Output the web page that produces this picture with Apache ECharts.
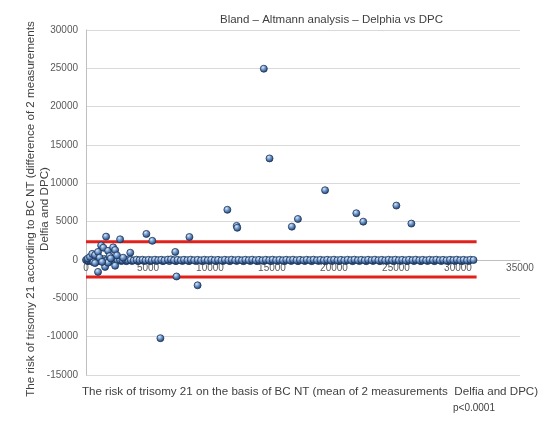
<!DOCTYPE html>
<html>
<head>
<meta charset="utf-8">
<script src="https://cdn.jsdelivr.net/npm/echarts@6/dist/echarts.min.js"></script>
<style>
  body { margin: 0; background: #fff; }
  #chart { width: 539px; height: 421px; }
</style>
</head>
<body>
<div id="chart"></div>
<script>
// limits of agreement (red lines)
const upperLimit = 2390;
const lowerLimit = -2220;
const limitRange = [0, 31500];

// dense band of points around zero difference
const bandPoints = [
  [0, 0], [90, 40], [180, -60], [260, 80], [380, -30], [470, 60], [590, -80], [700, 20],
  [820, 100], [950, -40], [1080, 60], [1200, -90], [1350, 30], [1480, 120], [1620, -50],
  [1760, 40], [1900, -70], [2050, 90], [2200, -20], [2380, 50], [2560, -60], [2740, 30],
  [2950, -40], [3150, 60], [3380, -30], [3600, 20], [3850, -50], [4080, 40], [4320, -20],
  [4560, 30], [4800, -40], [5050, 20], [5300, -30], [5560, 40], [5820, -20], [6070, 30],
  [6330, -40], [6600, 50], [6850, 80], [7100, -30], [7380, 20], [7650, -40], [7900, 30],
  [8180, -20], [8450, 40], [8720, -30], [9000, 20], [9280, -40], [9550, 30], [9820, -20],
  [10100, 40], [10380, -30], [10650, 20], [10930, -40], [11200, 30], [11480, -20],
  [11750, 40], [12030, -30], [12300, 20], [12580, -40], [12850, 30], [13130, -20],
  [13400, 40], [13680, -30], [13950, 20], [14230, -40], [14500, 30], [14780, -20],
  [15050, 40], [15330, -30], [15600, 20], [15880, -40], [16150, 30], [16430, -20],
  [16700, 40], [16980, -30], [17250, 20], [17530, -40], [17800, 30], [18080, -20],
  [18350, 40], [18630, -30], [18900, 20], [19180, -40], [19450, 30], [19730, -20],
  [20000, 40], [20280, -30], [20550, 20], [20830, -40], [21100, 30], [21380, -20],
  [21650, 40], [21930, -30], [22200, 20], [22480, -40], [22750, 30], [23030, -20],
  [23300, 40], [23580, -30], [23850, 20], [24130, -40], [24400, 30], [24680, -20],
  [24950, 40], [25230, -30], [25500, 20], [25780, -40], [26050, 30], [26330, -20],
  [26600, 40], [26880, -30], [27150, 20], [27430, -40], [27700, 30], [27980, -20],
  [28250, 40], [28530, -30], [28800, 20], [29080, -40], [29350, 30], [29630, -20],
  [29900, 40], [30180, -30], [30450, 20], [30730, -40], [31000, 30], [31250, 0]
];

// second, slightly lower row that gives the band its dark underside
const bandShadow = [
  [150, -150], [420, -120], [760, -160], [1030, -130], [1300, -170], [1560, -140],
  [1830, -160], [2120, -130], [2450, -150], [2850, -140], [3250, -150], [3700, -130],
  [4200, -150], [4680, -140], [5180, -150], [5680, -130], [6200, -150], [6720, -140],
  [7250, -150], [7780, -130], [8300, -150], [8850, -140], [9400, -150], [9950, -130],
  [10500, -150], [11050, -140], [11600, -150], [12150, -130], [12700, -150], [13250, -140],
  [13800, -150], [14350, -130], [14900, -150], [15450, -140], [16000, -150], [16550, -130],
  [17100, -150], [17650, -140], [18200, -150], [18750, -130], [19300, -150], [19850, -140],
  [20400, -150], [20950, -130], [21500, -150], [22050, -140], [22600, -150], [23150, -130],
  [23700, -150], [24250, -140], [24800, -150], [25350, -130], [25900, -150], [26450, -140],
  [27000, -150], [27550, -130], [28100, -150], [28650, -140], [29200, -150], [29750, -130],
  [30300, -150], [30850, -140]
];

// scattered points away from zero
const outlierPoints = [
  [14340, 24950], [14800, 13250], [19280, 9100], [25030, 7100], [11400, 6550],
  [21800, 6100], [12150, 4450], [12200, 4200], [17090, 5350], [16600, 4350],
  [22360, 5000], [26240, 4750], [8340, 3000], [4870, 3400], [5350, 2500],
  [2750, 2700], [1620, 3050], [3570, 950], [7200, 1050], [7300, -2150],
  [9000, -3300], [6000, -10200],
  [150, 200], [320, 400], [500, 800], [730, 650], [970, 1050], [1220, 1900],
  [1400, 1600], [1780, 1200], [2190, 1650], [2350, 1300], [2500, 600], [1100, 300],
  [1900, 500], [600, -300], [970, -1550], [1540, -900], [2350, -750], [730, -400],
  [1780, -350], [1300, -250], [2000, 200], [3000, 300]
];

const titleText = "Bland \u2013 Altmann analysis \u2013 Delphia vs DPC";
const xName = "The risk of trisomy 21 on the basis of BC NT (mean of 2 measurements  Delfia and DPC)";
const yName = "The risk of trisomy 21 according to BC NT (difference of 2 measurements\nDelfia and DPC)";
const pText = "p<0.0001";

const font = "Liberation Sans, Arial, sans-serif";

const ball = new echarts.graphic.RadialGradient(0.38, 0.32, 0.7, [
  { offset: 0, color: "#dde9f6" },
  { offset: 0.45, color: "#6a94c9" },
  { offset: 1, color: "#1b3764" },
]);

const chart = echarts.init(document.getElementById("chart"));
chart.setOption({
  backgroundColor: "#fff",
  animation: false,
  title: {
    text: titleText,
    left: 215,
    top: 9,
    textStyle: { fontFamily: font, fontSize: 11.5, fontWeight: "normal", color: "#404040" },
  },
  grid: { left: 86, right: 19, top: 30, bottom: 46 },
  xAxis: {
    type: "value",
    min: 0,
    max: 35000,
    interval: 5000,
    // put the axis (line and labels) on y = 0, as in the original
    offset: -115,
    axisLine: { onZero: false, lineStyle: { color: "#bfbfbf" } },
    axisTick: { show: false },
    splitLine: { show: false },
    axisLabel: {
      fontFamily: font,
      fontSize: 10,
      color: "#595959",
      margin: 3,
      formatter: function (v) {
        return String(v);
      },
    },
  },
  yAxis: {
    type: "value",
    min: -15000,
    max: 30000,
    interval: 5000,
    axisLine: { show: true, lineStyle: { color: "#bfbfbf" } },
    axisTick: { show: false },
    splitLine: { lineStyle: { color: "#d9d9d9", width: 1 } },
    axisLabel: {
      fontFamily: font,
      fontSize: 10,
      color: "#595959",
      margin: 8,
      formatter: function (v) {
        return String(v);
      },
    },
  },
  graphic: [
    {
      type: "text",
      x: 38,
      y: 209,
      rotation: Math.PI / 2,
      style: {
        text: yName,
        font: "11.6px " + font,
        fill: "#404040",
        align: "center",
        verticalAlign: "middle",
        lineHeight: 14,
      },
    },
    {
      type: "text",
      x: 310,
      y: 392,
      style: {
        text: xName,
        font: "11.6px " + font,
        fill: "#404040",
        align: "center",
        verticalAlign: "middle",
      },
    },
    {
      type: "text",
      x: 474,
      y: 408,
      style: {
        text: pText,
        font: "10px " + font,
        fill: "#404040",
        align: "center",
        verticalAlign: "middle",
      },
    },
  ],
  series: [
    {
      type: "line",
      data: [[limitRange[0], upperLimit], [limitRange[1], upperLimit]],
      symbol: "none",
      lineStyle: { color: "#e3211c", width: 3 },
      z: 2,
    },
    {
      type: "line",
      data: [[limitRange[0], lowerLimit], [limitRange[1], lowerLimit]],
      symbol: "none",
      lineStyle: { color: "#e3211c", width: 3 },
      z: 2,
    },
    {
      type: "scatter",
      data: bandShadow.concat(bandPoints, outlierPoints),
      symbolSize: 7,
      itemStyle: { color: ball, borderColor: "#1c355c", borderWidth: 0.8, opacity: 1 },
      z: 3,
    },
  ],
});
</script>
</body>
</html>
